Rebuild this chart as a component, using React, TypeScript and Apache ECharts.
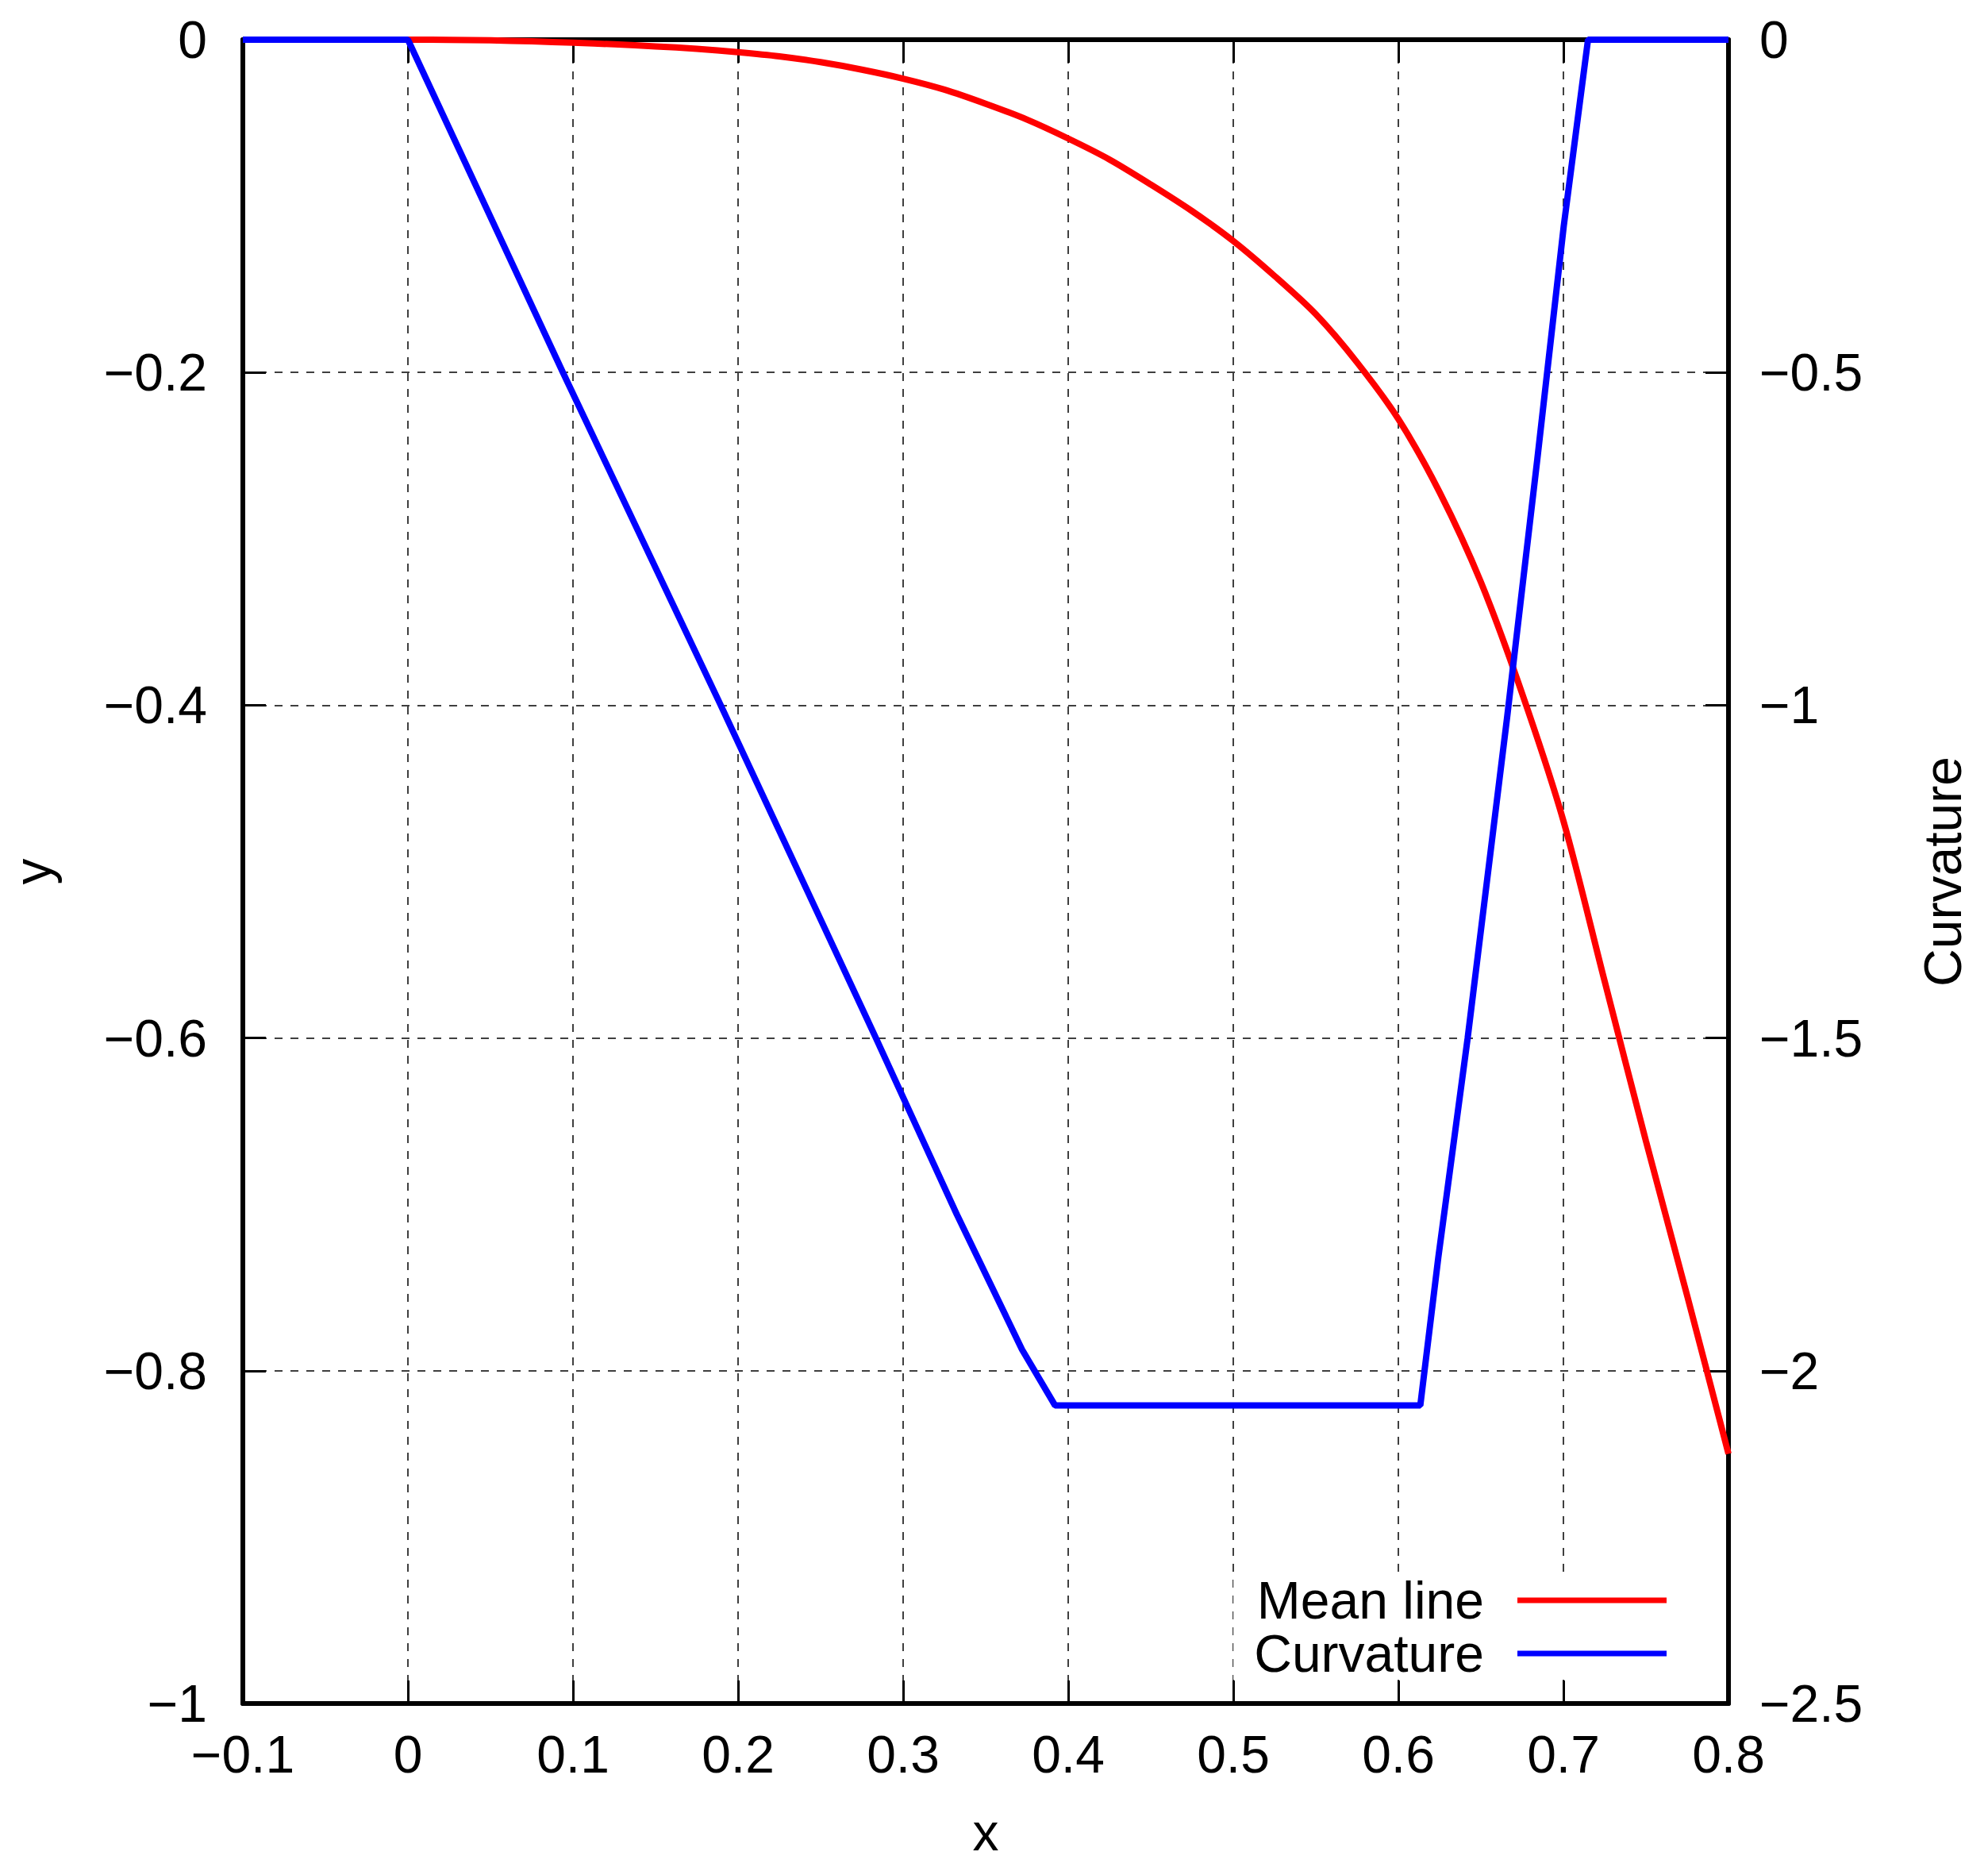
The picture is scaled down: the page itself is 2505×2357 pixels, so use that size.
import React, { useEffect, useRef } from "react";
import * as echarts from "echarts";

// ---- data ----
const meanLineX = [0, 0.025, 0.05, 0.075, 0.1, 0.125, 0.15, 0.175, 0.2, 0.225, 0.25, 0.275, 0.3, 0.325, 0.35, 0.375, 0.4, 0.425, 0.45, 0.475, 0.5, 0.525, 0.55, 0.575, 0.6, 0.625, 0.65, 0.675, 0.7, 0.725, 0.75, 0.775, 0.8];
const meanLineY = [0, -0.0001, -0.0004, -0.001, -0.0018, -0.0028, -0.004, -0.0055, -0.0075, -0.01, -0.0135, -0.018, -0.0234, -0.03, -0.0385, -0.048, -0.0594, -0.072, -0.087, -0.103, -0.121, -0.142, -0.165, -0.194, -0.228, -0.272, -0.326, -0.393, -0.4695, -0.566, -0.662, -0.755, -0.85];

const curvatureX = [-0.1, 0, 0.0939, 0.1895, 0.2835, 0.3325, 0.372, 0.392, 0.6133, 0.6242, 0.642, 0.6658, 0.6842, 0.7002, 0.7149, 0.8];
const curvatureY = [0, 0, -0.5, -1.0, -1.5, -1.765, -1.968, -2.052, -2.052, -1.83, -1.5, -1.02, -0.63, -0.28, 0, 0];

const seriesNames = ["Mean line", "Curvature"];
const seriesColors = ["#ff0000", "#0000ff"];

const xRange = { min: -0.1, max: 0.8, interval: 0.1 };
const yRange = { min: -1, max: 0, interval: 0.2 };
const y2Range = { min: -2.5, max: 0, interval: 0.5 };

const FONT = "'Liberation Sans', Arial, Helvetica, sans-serif";
const W = 2505;
const H = 2357;

const fmt = (v: number) => String(+Number(v).toFixed(2)).replace("-", "\u2212");

const zip = (xs: number[], ys: number[]) => xs.map((x, i) => [x, ys[i]]);

export default function App() {
  const ref = useRef<HTMLDivElement>(null);

  useEffect(() => {
    if (!ref.current) return;
    const chart = echarts.init(ref.current, null, { renderer: "svg", width: W, height: H });

    const axisLine = { show: true, onZero: false, lineStyle: { color: "#000", width: 6 } };
    const axisTick = { show: true, inside: true, length: 29, lineStyle: { color: "#000", width: 3 } };
    const label = (margin: number) => ({
      show: true,
      color: "#000",
      fontSize: 66,
      fontFamily: FONT,
      margin,
      formatter: fmt,
    });
    const gridLine = { show: true, lineStyle: { color: "#000", width: 1.5, type: [10, 10] } };
    const nameStyle = { color: "#000", fontSize: 66, fontFamily: FONT };

    chart.setOption({
      animation: false,
      backgroundColor: "#fff",
      grid: { left: 295, right: 327, top: 50, bottom: 211, containLabel: false },
      legend: {
        data: seriesNames,
        orient: "vertical",
        align: "right",
        right: 365,
        top: 1981,
        padding: [2, 40, 0, 26],
        itemGap: 1,
        itemWidth: 188,
        itemHeight: 7,
        icon: "rect",
        backgroundColor: "#fff",
        selectedMode: false,
        textStyle: {
          color: "#000",
          fontSize: 66,
          fontFamily: FONT,
          lineHeight: 66,
          padding: [0, 37, 0, 0],
        },
      },
      xAxis: [
        {
          type: "value",
          position: "bottom",
          ...xRange,
          axisLine,
          axisTick,
          axisLabel: label(31),
          splitLine: gridLine,
          name: "x",
          nameLocation: "middle",
          nameGap: 129,
          nameTextStyle: nameStyle,
        },
        {
          type: "value",
          position: "top",
          ...xRange,
          z: 3,
          axisLine,
          axisTick,
          axisLabel: { show: false },
          splitLine: { show: false },
        },
      ],
      yAxis: [
        {
          type: "value",
          position: "left",
          ...yRange,
          axisLine,
          axisTick,
          axisLabel: label(45),
          splitLine: gridLine,
          name: "y",
          nameLocation: "middle",
          nameRotate: 90,
          nameGap: 232,
          nameTextStyle: nameStyle,
        },
        {
          type: "value",
          position: "right",
          ...y2Range,
          axisLine,
          axisTick,
          axisLabel: label(39),
          splitLine: { show: false },
          name: "Curvature",
          nameLocation: "middle",
          nameRotate: 90,
          nameGap: 237,
          nameTextStyle: nameStyle,
        },
      ],
      series: [
        {
          name: seriesNames[0],
          type: "line",
          xAxisIndex: 0,
          yAxisIndex: 0,
          data: zip(meanLineX, meanLineY),
          symbol: "none",
          smooth: 0.3,
          clip: false,
          color: seriesColors[0],
          lineStyle: { color: seriesColors[0], width: 8 },
        },
        {
          name: seriesNames[1],
          type: "line",
          xAxisIndex: 0,
          yAxisIndex: 1,
          data: zip(curvatureX, curvatureY),
          symbol: "none",
          clip: false,
          color: seriesColors[1],
          lineStyle: { color: seriesColors[1], width: 8 },
        },
      ],
    });

    return () => chart.dispose();
  }, []);

  return (
    <div
      ref={ref}
      style={{ position: "fixed", left: 0, top: 0, width: W, height: H, background: "#fff" }}
    />
  );
}
